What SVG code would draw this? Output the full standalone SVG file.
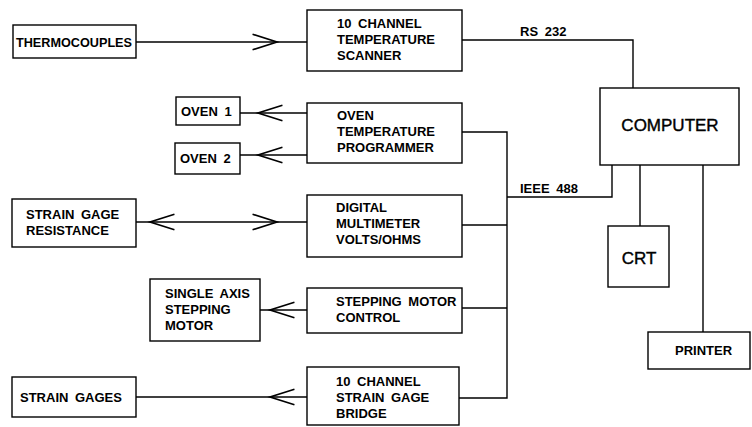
<svg xmlns="http://www.w3.org/2000/svg" width="752" height="427" viewBox="0 0 752 427">
<defs>
<style>
rect{fill:none;stroke:#000;stroke-width:1.4}
.c{fill:none;stroke:#000;stroke-width:1.4;marker-mid:url(#chev)}
.w{fill:none;stroke:#000;stroke-width:1.4}
text{font-family:"Liberation Sans",Arial,sans-serif;font-weight:bold;font-size:13px;word-spacing:3px;fill:#000}
.big{font-size:17px;font-weight:normal;stroke:#000;stroke-width:0.4}
.mid{text-anchor:middle}
</style>
<marker id="chev" markerUnits="userSpaceOnUse" markerWidth="30" markerHeight="20" viewBox="-24 -9 26 18" refX="0" refY="0" orient="auto">
<path d="M-22,-7 L0,0 L-22,7" fill="none" stroke="#000" stroke-width="1.5"/>
</marker>
</defs>
<g id="connectors">
<path class="c" d="M136,42 L277,42 L307,42"/>
<path class="c" d="M307,113 L258,113 L240,113"/>
<path class="c" d="M307,155 L258,155 L240,155"/>
<path class="c" d="M200,222 L150,222 L136,222"/>
<path class="c" d="M200,222 L277,222 L307,222"/>
<path class="c" d="M307,310 L270,310 L260,310"/>
<path class="c" d="M307,397 L270,397 L136,397"/>
<path class="w" d="M462,40 L633,40 L633,88"/>
<path class="w" d="M462,132 L507,132 L507,398 L459,398"/>
<path class="w" d="M462,225 L507,225"/>
<path class="w" d="M462,308 L507,308"/>
<path class="w" d="M507,197 L612,197 L612,165"/>
<path class="w" d="M640,165 L640,226"/>
<path class="w" d="M703,165 L703,332"/>
<text x="520" y="36">RS 232</text>
<text x="520" y="193">IEEE 488</text>
</g>
<g id="thermocouples"><rect x="13" y="25" width="123" height="33"/><text x="16" y="47" textLength="116" lengthAdjust="spacingAndGlyphs">THERMOCOUPLES</text></g>
<g id="scanner"><rect x="307" y="10" width="155" height="61"/><text x="337" y="28">10 CHANNEL</text><text x="337" y="44">TEMPERATURE</text><text x="337" y="60">SCANNER</text></g>
<g id="computer"><rect x="600" y="88" width="139" height="77"/><text class="big mid" x="670" y="131">COMPUTER</text></g>
<g id="oven1"><rect x="176" y="97" width="64" height="28"/><text x="181" y="116">OVEN 1</text></g>
<g id="oven2"><rect x="175" y="143" width="65" height="31"/><text x="180" y="163">OVEN 2</text></g>
<g id="programmer"><rect x="307" y="103" width="155" height="60"/><text x="337" y="120">OVEN</text><text x="337" y="136">TEMPERATURE</text><text x="337" y="152">PROGRAMMER</text></g>
<g id="sgresistance"><rect x="12" y="199" width="124" height="48"/><text x="26" y="219">STRAIN GAGE</text><text x="26" y="235">RESISTANCE</text></g>
<g id="dmm"><rect x="307" y="195" width="155" height="62"/><text x="336" y="212">DIGITAL</text><text x="336" y="228">MULTIMETER</text><text x="336" y="244">VOLTS/OHMS</text></g>
<g id="crt"><rect x="608" y="226" width="61" height="61"/><text class="big mid" x="639" y="264">CRT</text></g>
<g id="motor"><rect x="150" y="279" width="110" height="62"/><text x="165" y="298">SINGLE AXIS</text><text x="165" y="314">STEPPING</text><text x="165" y="330">MOTOR</text></g>
<g id="motorcontrol"><rect x="307" y="288" width="155" height="45"/><text x="336" y="306">STEPPING MOTOR</text><text x="336" y="322">CONTROL</text></g>
<g id="printer"><rect x="648" y="332" width="102" height="37"/><text x="675" y="355">PRINTER</text></g>
<g id="straingages"><rect x="12" y="377" width="124" height="40"/><text x="20" y="402">STRAIN GAGES</text></g>
<g id="bridge"><rect x="307" y="367" width="152" height="58"/><text x="336" y="386">10 CHANNEL</text><text x="336" y="402">STRAIN GAGE</text><text x="336" y="418">BRIDGE</text></g>
</svg>
